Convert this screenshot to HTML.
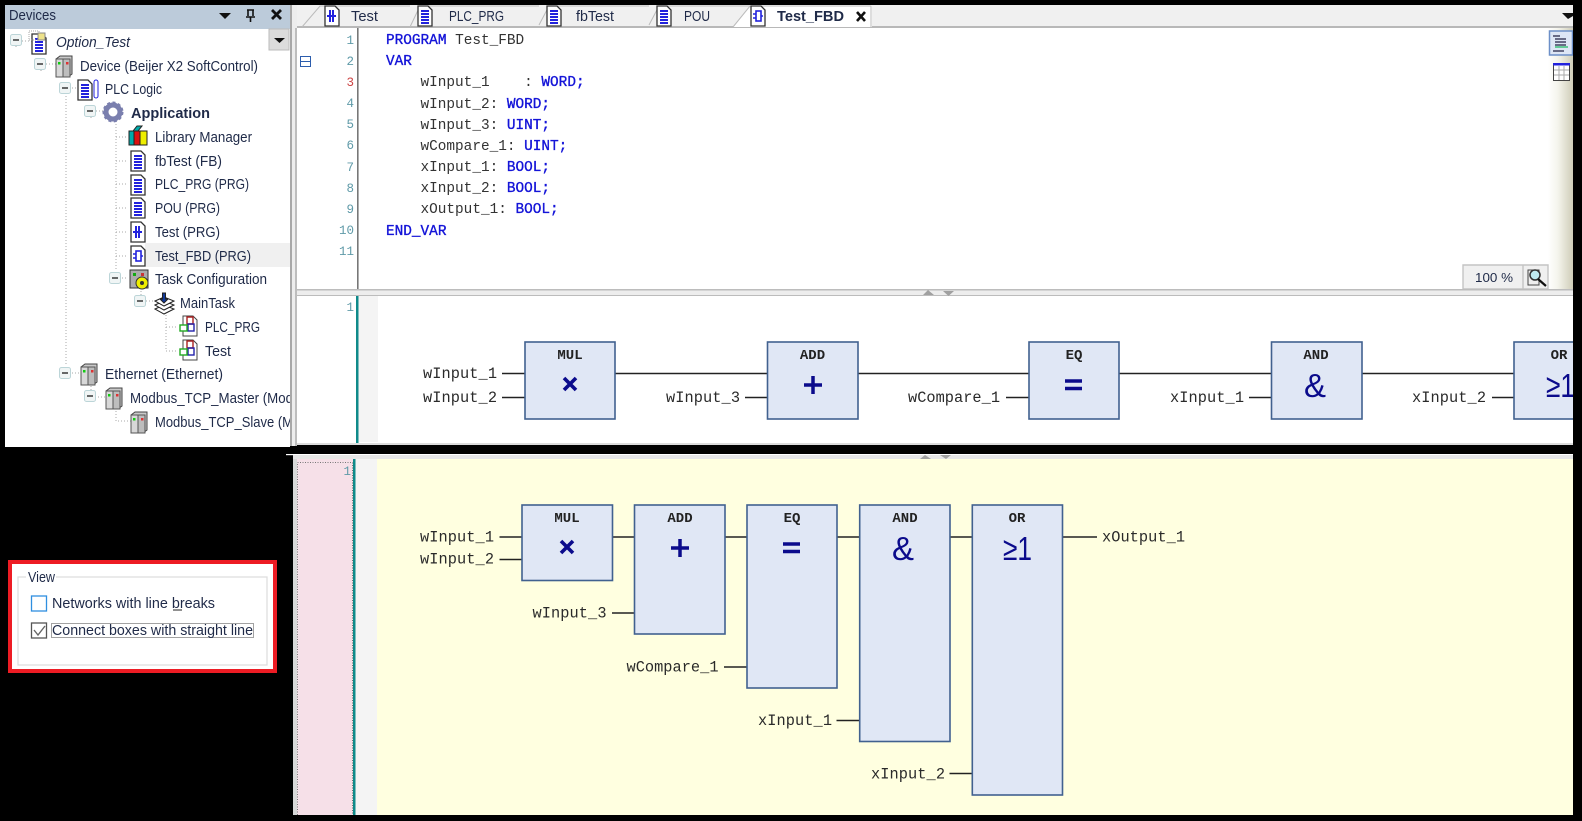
<!DOCTYPE html>
<html><head><meta charset="utf-8"><style>
html,body{margin:0;padding:0;background:#000;width:1582px;height:821px;overflow:hidden}
svg{display:block;filter:blur(.35px)}
.t{font:14.5px "Liberation Sans",sans-serif;fill:#1f2a48}
.m{font:14.4px "Liberation Mono",monospace;fill:#333}
.k{fill:#1414d8;stroke:#1414d8;stroke-width:.35}
.n{font:12.5px "Liberation Mono",monospace;fill:#5f9aa8;text-anchor:end}
.l{font:15.3px "Liberation Mono",monospace;fill:#2a2a2a}
.b{font:bold 14px "Liberation Mono",monospace;fill:#222;text-anchor:middle}
.s{font:33px "Liberation Sans",sans-serif;fill:#0b0b8c;text-anchor:middle}
.dot{stroke:#aaa;stroke-width:1;stroke-dasharray:1 2;fill:none}
.box{fill:#e0e7f5;stroke:#41618f;stroke-width:1.6}
.w{stroke:#222;stroke-width:1.4;fill:none}
</style></head><body>
<svg width="1582" height="821" viewBox="0 0 1582 821" xmlns="http://www.w3.org/2000/svg">
<defs>
<clipPath id="tree"><rect x="5" y="28" width="285" height="419"/></clipPath>
<linearGradient id="gr" x1="0" x2="1" y1="0" y2="0"><stop offset="0" stop-color="#fff"/><stop offset=".4" stop-color="#f4f4ec"/><stop offset="1" stop-color="#cfcdb8"/></linearGradient>
<g id="exp"><rect x="-5.5" y="-5.5" width="11" height="11" rx="2" fill="#f0f5f5" stroke="#bcd5d8"/><path d="M-3 0H3" stroke="#444" stroke-width="1.6"/></g>
<g id="doc"><path d="M-7-10H3L7-6V10H-7Z" fill="#fff" stroke="#333" stroke-width="1.3"/><path d="M-4-5H4M-4-2H4M-4 1H4M-4 4H4M-4 7H4" stroke="#2222dd" stroke-width="1.9"/></g>
<g id="fbd"><path d="M-7-10H3L7-6V10H-7Z" fill="#fff" stroke="#333" stroke-width="1.3"/><rect x="-2" y="-5" width="5" height="10" fill="#fff" stroke="#2222dd" stroke-width="1.6"/><path d="M-5-2H-2M-5 2H-2M3 0H5" stroke="#2222dd" stroke-width="1.4"/></g>
<g id="st"><path d="M-7-10H3L7-6V10H-7Z" fill="#fff" stroke="#333" stroke-width="1.3"/><path d="M-2-6V6M1-6V6M-5 0H4" stroke="#2222dd" stroke-width="2"/></g>
<g id="dev"><path d="M-8-7L-4-10H8V8L4 11H-8Z" fill="#c9c9c9" stroke="#444"/><rect x="-8" y="-7" width="7" height="18" fill="#d8d8d8" stroke="#555"/><rect x="-1" y="-7" width="7" height="18" fill="#bdbdbd" stroke="#555"/><rect x="-6" y="-4" width="2.5" height="2.5" fill="#1c1"/><rect x="2" y="-4" width="2.5" height="2.5" fill="#d33"/></g>
<g id="task"><path d="M-7-10H3L7-6V10H-7Z" fill="#fff" stroke="#444"/><path d="M-3-2V-9H3V-2Z" fill="none" stroke="#a22" stroke-width="1.4"/><rect x="-2" y="-2" width="6" height="7" fill="none" stroke="#22a" stroke-width="1.4"/><rect x="-10" y="-1" width="7" height="6" fill="#fff" stroke="#2a2" stroke-width="1.4"/></g>
</defs>

<rect width="1582" height="821" fill="#000"/>

<!-- Devices panel -->
<rect x="5" y="5" width="285" height="442" fill="#fff"/>
<rect x="5" y="5" width="285" height="24" fill="#bccbda"/>
<text x="9" y="20" class="t" textLength="47" lengthAdjust="spacingAndGlyphs">Devices</text>
<path d="M219 13H231L225 19Z" fill="#111"/>
<path d="M247 10H254M248 10V16M253 10V16M246 17H255M250.5 17V22" stroke="#111" stroke-width="1.6" fill="none"/>
<path d="M272 10L281 19M281 10L272 19" stroke="#111" stroke-width="2.8"/>
<rect x="269" y="29" width="20" height="21" fill="#dcdcdc" stroke="#bbb"/>
<path d="M274 38H285L279.5 43Z" fill="#111"/>
<rect x="145" y="243" width="145" height="24" fill="#f0f0f0"/>

<path class="dot" d="M16 47V41H32M41 71V64H56M66 96V366M66 88H78M66 373H80M91 118V111H104M116 121V270M116 137H128M116 161H128M116 184H128M116 208H128M116 232H128M116 256H128M116 278H128M141 285V301H155M166 312V351M166 327H178M166 351H178M91 380V397H106M116 408V421H131"/>
<use href="#exp" x="16" y="40"/><use href="#exp" x="40" y="64"/><use href="#exp" x="65" y="88"/><use href="#exp" x="90" y="111"/><use href="#exp" x="115" y="278"/><use href="#exp" x="140" y="301"/><use href="#exp" x="65" y="373"/><use href="#exp" x="90" y="396"/>

<!-- Tree icons -->
<use href="#doc" x="39" y="44"/><rect x="29" y="31" width="10" height="9" fill="none" stroke="#aaa" stroke-dasharray="1 1"/><rect x="38" y="33" width="7" height="7" fill="#eee28a" stroke="#888"/>
<use href="#dev" x="64" y="66"/>
<use href="#doc" x="85" y="90"/><rect x="94" y="80" width="4" height="18" rx="2" fill="#fff" stroke="#22d"/>
<circle cx="113" cy="112" r="7" fill="none" stroke="#7a7fae" stroke-width="5"/><circle cx="113" cy="112" r="9.5" fill="none" stroke="#7a7fae" stroke-width="2" stroke-dasharray="3 2.5"/>
<g stroke="#222"><path d="M129 131H134V145H129Z" fill="#0aa"/><path d="M134 131H140V145H134Z" fill="#d11"/><path d="M140 131H147V145H140Z" fill="#ee0"/><path d="M133 131L137 126H142L138 131Z" fill="#0aa"/></g>
<use href="#doc" x="138" y="161"/><use href="#doc" x="138" y="185"/><use href="#doc" x="138" y="208"/><use href="#st" x="138" y="232"/><use href="#fbd" x="138" y="256"/>
<g><rect x="130" y="270" width="18" height="18" fill="#ababab" stroke="#333"/><rect x="133" y="273" width="3" height="3" fill="#1a1"/><rect x="141" y="273" width="3" height="3" fill="#c33"/><circle cx="142" cy="283" r="6" fill="#ee0" stroke="#333"/><circle cx="142" cy="283" r="2" fill="#333"/></g>
<g stroke="#222" fill="#fff"><path d="M155 309L164 305L174 309L164 314Z"/><path d="M155 305L164 301L174 305L164 310Z"/><path d="M155 301L164 297L174 301L164 306Z"/><path d="M162.5 293H165.5V299H168L164 303L160 299H162.5Z" fill="#123a9a"/></g>
<use href="#task" x="190" y="326"/><use href="#task" x="190" y="350"/>
<use href="#dev" x="89" y="374"/><use href="#dev" x="114" y="398"/><use href="#dev" x="139" y="422"/>

<!-- Tree labels -->
<g clip-path="url(#tree)">
<text x="56" y="47" class="t" style="font-style:italic" textLength="74" lengthAdjust="spacingAndGlyphs">Option_Test</text>
<text x="80" y="71" class="t" textLength="178" lengthAdjust="spacingAndGlyphs">Device (Beijer X2 SoftControl)</text>
<text x="105" y="94" class="t" textLength="57" lengthAdjust="spacingAndGlyphs">PLC Logic</text>
<text x="131" y="118" class="t" style="font-weight:bold" textLength="79" lengthAdjust="spacingAndGlyphs">Application</text>
<text x="155" y="142" class="t" textLength="97" lengthAdjust="spacingAndGlyphs">Library Manager</text>
<text x="155" y="166" class="t" textLength="67" lengthAdjust="spacingAndGlyphs">fbTest (FB)</text>
<text x="155" y="189" class="t" textLength="94" lengthAdjust="spacingAndGlyphs">PLC_PRG (PRG)</text>
<text x="155" y="213" class="t" textLength="65" lengthAdjust="spacingAndGlyphs">POU (PRG)</text>
<text x="155" y="237" class="t" textLength="65" lengthAdjust="spacingAndGlyphs">Test (PRG)</text>
<text x="155" y="261" class="t" textLength="96" lengthAdjust="spacingAndGlyphs">Test_FBD (PRG)</text>
<text x="155" y="284" class="t" textLength="112" lengthAdjust="spacingAndGlyphs">Task Configuration</text>
<text x="180" y="308" class="t" textLength="55" lengthAdjust="spacingAndGlyphs">MainTask</text>
<text x="205" y="332" class="t" textLength="55" lengthAdjust="spacingAndGlyphs">PLC_PRG</text>
<text x="205" y="356" class="t" textLength="26" lengthAdjust="spacingAndGlyphs">Test</text>
<text x="105" y="379" class="t" textLength="118" lengthAdjust="spacingAndGlyphs">Ethernet (Ethernet)</text>
<text x="130" y="403" class="t" textLength="163" lengthAdjust="spacingAndGlyphs">Modbus_TCP_Master (Mod</text>
<text x="155" y="427" class="t" textLength="138" lengthAdjust="spacingAndGlyphs">Modbus_TCP_Slave (M</text>
</g>

<!-- Splitter -->
<rect x="290" y="5" width="7" height="441" fill="#ededed"/>
<rect x="290" y="5" width="2" height="441" fill="#a8a8a8"/>
<rect x="295" y="28" width="2" height="418" fill="#bdbdbd"/>

<!-- Tabs -->
<rect x="297" y="5" width="1276" height="23" fill="#f0f0f0"/>
<rect x="297" y="26" width="1276" height="2" fill="#b8b8b8"/>
<path d="M733 27L750 5H872V27Z" fill="#fff"/>
<path d="M733 27L750 6H871V27" fill="none" stroke="#bbb"/>
<path d="M302 27L320 6H410M410 27L420 6H539M539 25L549 6H649M649 25L659 6H750" fill="none" stroke="#bbb"/>
<use href="#st" x="332" y="16"/><use href="#doc" x="425" y="16"/><use href="#doc" x="554" y="16"/><use href="#doc" x="664" y="16"/><use href="#fbd" x="758" y="16"/>
<text x="351" y="21" class="t" textLength="27" lengthAdjust="spacingAndGlyphs">Test</text>
<text x="449" y="21" class="t" textLength="55" lengthAdjust="spacingAndGlyphs">PLC_PRG</text>
<text x="576" y="21" class="t" textLength="38" lengthAdjust="spacingAndGlyphs">fbTest</text>
<text x="684" y="21" class="t" textLength="26" lengthAdjust="spacingAndGlyphs">POU</text>
<text x="777" y="21" class="t" style="font-weight:bold" textLength="67" lengthAdjust="spacingAndGlyphs">Test_FBD</text>
<path d="M857 12L865 21M865 12L857 21" stroke="#111" stroke-width="2.6"/>
<path d="M1562 13H1573V16L1568 19Z" fill="#111"/>

<!-- Code editor -->
<rect x="297" y="28" width="1276" height="262" fill="#fff"/>
<rect x="357" y="28" width="1.6" height="262" fill="#777"/>
<rect x="1548" y="28" width="25" height="261" fill="url(#gr)"/>
<rect x="1549.5" y="31" width="23" height="24" fill="#dde6f5" stroke="#6c8fc8" stroke-width="1.5"/>
<path d="M1553 36H1560M1555 39H1566M1555 42H1566M1555 45H1566M1553 51H1564" stroke="#224" stroke-width="1.3"/><path d="M1555 47H1568" stroke="#2b6" stroke-width="1.3"/>
<rect x="1553.5" y="63.5" width="16" height="17" fill="#fff" stroke="#444"/><rect x="1553" y="63" width="17" height="2.5" fill="#22d"/><path d="M1554 70H1569M1554 75H1569M1559 66V80M1564 66V80" stroke="#aaa"/>
<path d="M1463 265H1523V289H1463ZM1523 265H1548V289H1523Z" fill="#f0f0f0" stroke="#c4c4c4" stroke-width="1.4"/>
<text x="1475" y="282" class="t" textLength="38" lengthAdjust="spacingAndGlyphs" style="font-size:13px">100 %</text>
<rect x="1528" y="270" width="11" height="15" fill="#eee" stroke="#444"/><circle cx="1535" cy="275" r="5" fill="#bfeaf0" stroke="#333" stroke-width="1.5"/><path d="M1538 279L1546 286" stroke="#111" stroke-width="2.2"/>

<rect x="300.5" y="56.5" width="10" height="10" fill="#fff" stroke="#2c5dad"/><path d="M301 61.5H310" stroke="#2c5dad"/>
<text x="354" y="44" class="n">1</text><text x="354" y="65" class="n">2</text><text x="354" y="86" class="n" style="fill:#c44">3</text><text x="354" y="107" class="n">4</text><text x="354" y="128" class="n">5</text><text x="354" y="149" class="n">6</text><text x="354" y="171" class="n">7</text><text x="354" y="192" class="n">8</text><text x="354" y="213" class="n">9</text><text x="354" y="234" class="n">10</text><text x="354" y="255" class="n">11</text>
<text x="386" y="44" class="m"><tspan class="k">PROGRAM</tspan> Test_FBD</text>
<text x="386" y="65" class="m"><tspan class="k">VAR</tspan></text>
<text x="420.5" y="86" class="m">wInput_1&#160;&#160;&#160;&#160;: <tspan class="k">WORD;</tspan></text>
<text x="420.5" y="108" class="m">wInput_2: <tspan class="k">WORD;</tspan></text>
<text x="420.5" y="129" class="m">wInput_3: <tspan class="k">UINT;</tspan></text>
<text x="420.5" y="150" class="m">wCompare_1: <tspan class="k">UINT;</tspan></text>
<text x="420.5" y="171" class="m">xInput_1: <tspan class="k">BOOL;</tspan></text>
<text x="420.5" y="192" class="m">xInput_2: <tspan class="k">BOOL;</tspan></text>
<text x="420.5" y="213" class="m">xOutput_1: <tspan class="k">BOOL;</tspan></text>
<text x="386" y="235" class="m"><tspan class="k">END_VAR</tspan></text>

<!-- Horizontal splitter -->
<rect x="297" y="289" width="1276" height="7" fill="#ededed"/>
<rect x="297" y="289" width="1276" height="1.5" fill="#bcbcbc"/>
<rect x="297" y="295" width="1276" height="1.5" fill="#bcbcbc"/>
<path d="M923 295L928 290L934 295ZM943 291H954L948.5 296Z" fill="#a0a0a0"/>

<!-- FBD top -->
<rect x="297" y="296" width="1276" height="147" fill="#fff"/>
<rect x="297" y="443" width="1276" height="2" fill="#dcdcdc"/>
<rect x="358" y="296" width="20" height="146" fill="#f4f4f4"/>
<rect x="356" y="296" width="2.5" height="147" fill="#0f8a8a"/>
<text x="354" y="311" class="n">1</text>

<path class="w" d="M502 373.5H525M502 397.5H525M615 373.5H767M745 397.5H767M858 373.5H1029M1006 397.5H1029M1119 373.5H1271M1249 397.5H1271M1362 373.5H1514M1492 397.5H1514"/>
<rect class="box" x="525" y="342" width="90" height="77"/>
<rect class="box" x="767.5" y="342" width="90.5" height="77"/>
<rect class="box" x="1029" y="342" width="90" height="77"/>
<rect class="box" x="1271.5" y="342" width="90.5" height="77"/>
<rect class="box" x="1514" y="342" width="70" height="77"/>
<text x="570" y="359" class="b">MUL</text><text x="812.5" y="359" class="b">ADD</text><text x="1074" y="359" class="b">EQ</text><text x="1316" y="359" class="b">AND</text><text x="1559" y="359" class="b">OR</text>
<path d="M564 378L576 390M576 378L564 390" stroke="#0b0b8c" stroke-width="3.6"/>
<path d="M813 376V394M804 385H822" stroke="#0b0b8c" stroke-width="3.5"/>
<path d="M1065 381H1082M1065 388.5H1082" stroke="#0b0b8c" stroke-width="3.5"/>
<text x="1315" y="397" class="s">&amp;</text>
<text x="1546" y="397" class="s" style="text-anchor:start" textLength="29" lengthAdjust="spacingAndGlyphs">≥1</text>
<text x="423" y="378" class="l" textLength="74">wInput_1</text>
<text x="423" y="402" class="l" textLength="74">wInput_2</text>
<text x="666" y="402" class="l" textLength="74">wInput_3</text>
<text x="908" y="402" class="l" textLength="92">wCompare_1</text>
<text x="1170" y="402" class="l" textLength="74">xInput_1</text>
<text x="1412" y="402" class="l" textLength="74">xInput_2</text>

<!-- mask overflow on right -->
<rect x="1573" y="0" width="9" height="821" fill="#000"/>

<!-- FBD bottom -->
<rect x="286" y="454" width="1287" height="1.2" fill="#fff"/>
<rect x="293" y="455" width="1285" height="4" fill="#e6e6e6"/>
<rect x="293" y="459" width="4" height="356" fill="#d8d8d8"/>
<path d="M920 459L925 455L931 459ZM940 455H951L946 459Z" fill="#a0a0a0"/>
<rect x="297" y="459" width="1281" height="356" fill="#ffffe0"/>
<rect x="297" y="459" width="56" height="356" fill="#f6e0e8"/>
<rect x="297.5" y="462.5" width="55" height="360" fill="none" stroke="#777" stroke-dasharray="1 1.5"/>
<rect x="353" y="459" width="2.5" height="356" fill="#0f8a8a"/>
<rect x="355.5" y="459" width="21.5" height="356" fill="#f4f4f4"/>
<text x="351" y="475" class="n">1</text>

<path class="w" d="M499.5 537H522M499.5 559.5H522M612.5 537H634.5M612 613H634.5M725.5 537H747.5M724 667H747.5M837.5 537H859.5M836.5 720.5H859.5M950 537H972M949.5 773.5H972M1062.5 537H1097"/>
<rect class="box" x="522" y="505" width="90.5" height="75.5"/>
<rect class="box" x="634.5" y="505" width="90.5" height="129"/>
<rect class="box" x="747" y="505" width="90" height="183"/>
<rect class="box" x="859.7" y="505" width="90.3" height="236.5"/>
<rect class="box" x="972.3" y="505" width="90.2" height="290"/>
<text x="567" y="522" class="b">MUL</text><text x="680" y="522" class="b">ADD</text><text x="792" y="522" class="b">EQ</text><text x="905" y="522" class="b">AND</text><text x="1017" y="522" class="b">OR</text>
<path d="M561 541L573 553M573 541L561 553" stroke="#0b0b8c" stroke-width="3.6"/>
<path d="M680 539V557M671 548H689" stroke="#0b0b8c" stroke-width="3.5"/>
<path d="M783 544H800M783 551.5H800" stroke="#0b0b8c" stroke-width="3.5"/>
<text x="903" y="560" class="s">&amp;</text>
<text x="1003" y="560" class="s" style="text-anchor:start" textLength="29" lengthAdjust="spacingAndGlyphs">≥1</text>
<text x="420" y="541.5" class="l" textLength="74">wInput_1</text>
<text x="420" y="563.5" class="l" textLength="74">wInput_2</text>
<text x="532.5" y="617.5" class="l" textLength="74">wInput_3</text>
<text x="626.5" y="671.5" class="l" textLength="92">wCompare_1</text>
<text x="758" y="725" class="l" textLength="74">xInput_1</text>
<text x="871" y="778.5" class="l" textLength="74">xInput_2</text>
<text x="1102" y="541.5" class="l" textLength="83">xOutput_1</text>
<rect x="293" y="815" width="1289" height="6" fill="#000"/>
<rect x="1573" y="454" width="9" height="367" fill="#000"/>

<!-- View dialog -->
<rect x="10" y="562" width="265" height="109" fill="#fff" stroke="#ed1c24" stroke-width="4"/>
<rect x="18" y="577" width="249" height="88" fill="#fff" stroke="#dcdcdc" stroke-width="1.2"/>
<rect x="26" y="572" width="30" height="10" fill="#fff"/>
<text x="28" y="582" class="t" textLength="27" lengthAdjust="spacingAndGlyphs">View</text>
<rect x="31.5" y="596" width="15" height="15" fill="#fff" stroke="#2f8fe0" stroke-width="1.3"/>
<text x="52" y="608" class="t" textLength="163" lengthAdjust="spacingAndGlyphs">Networks with line breaks</text>
<path d="M173 610H182" stroke="#222"/>
<rect x="31.5" y="623" width="15" height="15" fill="#fff" stroke="#555" stroke-width="1.3"/>
<path d="M34 630L38 635L45 626" fill="none" stroke="#666" stroke-width="1.4"/>
<rect x="51.5" y="623.5" width="202" height="14" fill="none" stroke="#444" stroke-dasharray="1 1"/>
<text x="52" y="635" class="t" textLength="201" lengthAdjust="spacingAndGlyphs">Connect boxes with straight line</text>
</svg>
</body></html>
